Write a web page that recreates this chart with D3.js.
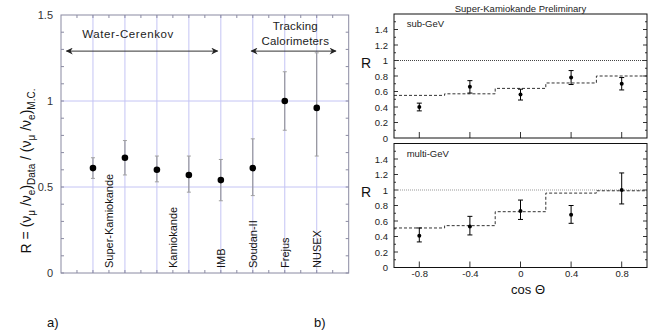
<!DOCTYPE html>
<html>
<head>
<meta charset="utf-8">
<script src="https://cdn.jsdelivr.net/npm/d3@7"></script>
<style>
body { margin: 0; background: #fff; }
text { font-family: "Liberation Sans", Arial, Helvetica, sans-serif; }
</style>
</head>
<body>
<script>
// panel a) : R for each experiment
var expPos = [1, 2, 3, 4, 5, 6, 7, 8]
var expR = [0.61, 0.67, 0.60, 0.57, 0.54, 0.61, 1.00, 0.96]
var expErrUp = [0.06, 0.10, 0.08, 0.11, 0.12, 0.17, 0.17, 0.32]
var expErrDn = [0.06, 0.10, 0.07, 0.10, 0.12, 0.16, 0.17, 0.28]
var expLabels = ["Super-Kamiokande", "Kamiokande", "IMB", "Soudan-II", "Frejus", "NUSEX"]
var expLabelPos = [1.5, 3.5, 5, 6, 7, 8]
var leftTicks = [0, 0.5, 1, 1.5]
var groups = [
    {name: ["Water-Cerenkov"], from: 0.17, to: 4.9},
    {name: ["Tracking", "Calorimeters"], from: 5.95, to: 8.6}
]

// panel b) : Super-Kamiokande zenith angle
var cosBins = [-0.8, -0.4, 0, 0.4, 0.8]
var binEdges = [-1, -0.6, -0.2, 0.2, 0.6, 1]
var subR = [0.40, 0.66, 0.56, 0.78, 0.70]
var subErr = [0.05, 0.08, 0.07, 0.09, 0.08]
var subMC = [0.55, 0.57, 0.64, 0.71, 0.80]
var multiR = [0.41, 0.53, 0.73, 0.68, 1.00]
var multiErrUp = [0.10, 0.13, 0.14, 0.12, 0.22]
var multiErrDn = [0.08, 0.11, 0.11, 0.11, 0.18]
var multiMC = [0.51, 0.54, 0.72, 0.96, 0.99]
var rightTicks = [0, 0.2, 0.4, 0.6, 0.8, 1, 1.2, 1.4]
var cosTicks = [-0.8, -0.4, 0, 0.4, 0.8]

var svg = d3.select('body').append('svg')
    .attr('width', 654)
    .attr('height', 330)

// ---------- panel a ----------
var frameCol = '#8a8aa2'
var gridCol = '#c4c4f4'
var xA = d3.scaleLinear().domain([0, 9]).range([61, 348.7])
var yA = d3.scaleLinear().domain([0, 1.5]).range([273, 15])

var gA = svg.append('g')

// vertical blue grid
gA.selectAll('.vgrid').data(expPos).enter().append('line')
    .attr('x1', d => xA(d)).attr('x2', d => xA(d))
    .attr('y1', yA(1.5)).attr('y2', yA(0))
    .attr('stroke', gridCol).attr('stroke-width', 1)
gA.selectAll('.hgrid').data([0.5, 1]).enter().append('line')
    .attr('x1', xA(0)).attr('x2', xA(9))
    .attr('y1', d => yA(d)).attr('y2', d => yA(d))
    .attr('stroke', gridCol).attr('stroke-width', 1)

// minor ticks
var minorY = d3.range(0, 15).map(d => d / 10)
gA.selectAll('.myl').data(minorY).enter().append('line')
    .attr('x1', xA(0)).attr('x2', xA(0) + 3)
    .attr('y1', d => yA(d)).attr('y2', d => yA(d))
    .attr('stroke', frameCol)
gA.selectAll('.myr').data(minorY).enter().append('line')
    .attr('x1', xA(9)).attr('x2', xA(9) - 3)
    .attr('y1', d => yA(d)).attr('y2', d => yA(d))
    .attr('stroke', frameCol)
var minorX = d3.range(1, 18).map(d => d / 2)
gA.selectAll('.mxb').data(minorX).enter().append('line')
    .attr('x1', d => xA(d)).attr('x2', d => xA(d))
    .attr('y1', yA(0)).attr('y2', yA(0) - 3)
    .attr('stroke', frameCol)
gA.selectAll('.mxt').data(minorX).enter().append('line')
    .attr('x1', d => xA(d)).attr('x2', d => xA(d))
    .attr('y1', yA(1.5)).attr('y2', yA(1.5) + 3)
    .attr('stroke', frameCol)

gA.append('rect')
    .attr('x', xA(0)).attr('y', yA(1.5))
    .attr('width', xA(9) - xA(0)).attr('height', yA(0) - yA(1.5))
    .attr('fill', 'none').attr('stroke', frameCol)

gA.append('g')
    .attr('transform', 'translate(' + xA(0) + ',0)')
    .call(d3.axisLeft(yA).tickValues(leftTicks).tickSize(0).tickPadding(8)
        .tickFormat(d => String(d)))
    .call(g => g.select('.domain').remove())
    .selectAll('text')
    .attr('font-size', 11).attr('fill', '#333')
    .style('font-family', '"Liberation Sans", Arial, sans-serif')

// error bars
gA.selectAll('.err').data(expPos).enter().append('line')
    .attr('x1', d => xA(d)).attr('x2', d => xA(d))
    .attr('y1', (d, i) => yA(expR[i] + expErrUp[i]))
    .attr('y2', (d, i) => yA(expR[i] - expErrDn[i]))
    .attr('stroke', '#8a8a8a').attr('stroke-width', 1)
gA.selectAll('.capU').data(expPos).enter().append('line')
    .attr('x1', d => xA(d) - 2).attr('x2', d => xA(d) + 2)
    .attr('y1', (d, i) => yA(expR[i] + expErrUp[i]))
    .attr('y2', (d, i) => yA(expR[i] + expErrUp[i]))
    .attr('stroke', '#a0a0a0')
gA.selectAll('.capD').data(expPos).enter().append('line')
    .attr('x1', d => xA(d) - 2).attr('x2', d => xA(d) + 2)
    .attr('y1', (d, i) => yA(expR[i] - expErrDn[i]))
    .attr('y2', (d, i) => yA(expR[i] - expErrDn[i]))
    .attr('stroke', '#a0a0a0')
gA.selectAll('.pt').data(expPos).enter().append('circle')
    .attr('cx', d => xA(d)).attr('cy', (d, i) => yA(expR[i]))
    .attr('r', 3.3).attr('fill', '#000')

// rotated experiment labels
gA.selectAll('.lab').data(expLabels).enter().append('text')
    .attr('transform', (d, i) => 'translate(' + (xA(expLabelPos[i]) + 4) + ',' + (yA(0) - 5) + ') rotate(-90)')
    .attr('font-size', 11).attr('fill', '#111')
    .text(d => d)

// group arrows
var defs = svg.append('defs')
defs.append('marker').attr('id', 'ah')
    .attr('viewBox', '0 0 10 10').attr('refX', 9).attr('refY', 5)
    .attr('markerWidth', 9).attr('markerHeight', 7)
    .attr('markerUnits', 'userSpaceOnUse')
    .attr('orient', 'auto-start-reverse')
    .append('path').attr('d', 'M0,0 L10,5 L0,10 L3,5 Z').attr('fill', '#222')

var arrowY = yA(1.29)
groups.forEach(function (g, k) {
    gA.append('line')
        .attr('x1', xA(g.from)).attr('x2', xA(g.to))
        .attr('y1', arrowY).attr('y2', arrowY)
        .attr('stroke', '#333').attr('stroke-width', 1)
        .attr('marker-start', 'url(#ah)').attr('marker-end', 'url(#ah)')
    var cx = k == 0 ? xA(2.1) : xA(7.33)
    var t = gA.append('text').attr('text-anchor', 'middle')
        .attr('font-size', 11.5).attr('fill', '#222')
        .attr('letter-spacing', k == 0 ? 0.6 : 0.2)
    g.name.forEach(function (s, j) {
        var base = k == 0 ? yA(1.29) - 13 : yA(1.29) - 21 + j * 15
        t.append('tspan').attr('x', cx).attr('y', base).text(s)
    })
})

// y label
var yl = svg.append('text')
    .attr('transform', 'translate(31,171) rotate(-90)')
    .attr('text-anchor', 'middle')
    .attr('font-size', 14).attr('fill', '#111')
yl.append('tspan').text('R = (ν')
yl.append('tspan').attr('dy', 4).attr('font-size', 10).text('μ')
yl.append('tspan').attr('dy', -4).text(' /ν')
yl.append('tspan').attr('dy', 4).attr('font-size', 10).text('e')
yl.append('tspan').attr('dy', -4).text(')')
yl.append('tspan').attr('dy', 4).attr('font-size', 10).text('Data')
yl.append('tspan').attr('dy', -4).text(' / (ν')
yl.append('tspan').attr('dy', 4).attr('font-size', 10).text('μ')
yl.append('tspan').attr('dy', -4).text(' /ν')
yl.append('tspan').attr('dy', 4).attr('font-size', 10).text('e')
yl.append('tspan').attr('dy', -4).text(')')
yl.append('tspan').attr('dy', 4).attr('font-size', 10).text('M.C.')

svg.append('text').attr('x', 47).attr('y', 327)
    .attr('font-size', 13).attr('fill', '#111').text('a)')
svg.append('text').attr('x', 314).attr('y', 327)
    .attr('font-size', 13).attr('fill', '#111').text('b)')

// ---------- panel b ----------
var xB = d3.scaleLinear().domain([-1, 1]).range([394, 647])

function drawPanel(top, bottom, vals, errUp, errDn, mc, name, dotCol, showXLabels) {
    var y = d3.scaleLinear().domain([0, 1.6]).range([bottom, top])
    var g = svg.append('g')

    // y ticks both sides
    var minor = d3.range(1, 16).map(d => d / 10)
    g.selectAll('.tl').data(minor).enter().append('line')
        .attr('x1', xB(-1)).attr('x2', (d, i) => xB(-1) + (i % 2 == 1 ? 4 : 2))
        .attr('y1', d => y(d)).attr('y2', d => y(d))
        .attr('stroke', '#000').attr('stroke-width', 0.8)
    g.selectAll('.tr').data(minor).enter().append('line')
        .attr('x1', xB(1)).attr('x2', (d, i) => xB(1) - (i % 2 == 1 ? 4 : 2))
        .attr('y1', d => y(d)).attr('y2', d => y(d))
        .attr('stroke', '#000').attr('stroke-width', 0.8)
    g.selectAll('.tb').data(cosTicks).enter().append('line')
        .attr('x1', d => xB(d)).attr('x2', d => xB(d))
        .attr('y1', bottom).attr('y2', bottom - 6)
        .attr('stroke', '#000').attr('stroke-width', 0.8)

    g.append('g')
        .attr('transform', 'translate(' + xB(-1) + ',0)')
        .call(d3.axisLeft(y).tickValues(rightTicks).tickSize(0).tickPadding(6)
            .tickFormat(d => String(d)))
        .call(a => a.select('.domain').remove())
        .selectAll('text')
        .attr('font-size', 9.5).attr('fill', '#222')
        .style('font-family', '"Liberation Sans", Arial, sans-serif')

    if (showXLabels) {
        g.append('g')
            .attr('transform', 'translate(0,' + bottom + ')')
            .call(d3.axisBottom(xB).tickValues(cosTicks).tickSize(0).tickPadding(3)
                .tickFormat(d => String(d)))
            .call(a => a.select('.domain').remove())
            .selectAll('text')
            .attr('font-size', 9.5).attr('fill', '#222')
            .style('font-family', '"Liberation Sans", Arial, sans-serif')
    }

    // R = 1 reference
    g.append('line')
        .attr('x1', xB(-1)).attr('x2', xB(1))
        .attr('y1', y(1)).attr('y2', y(1))
        .attr('stroke', dotCol).attr('stroke-width', 1)
        .attr('stroke-dasharray', '1,1')

    // MC expectation steps
    var steps = binEdges.map((e, i) => [e, mc[Math.min(i, mc.length - 1)]])
    g.append('path')
        .attr('d', d3.line().x(d => xB(d[0])).y(d => y(d[1])).curve(d3.curveStepAfter)(steps))
        .attr('fill', 'none').attr('stroke', '#333').attr('stroke-width', 1)
        .attr('stroke-dasharray', '3,2')

    // data
    g.selectAll('.eb').data(cosBins).enter().append('line')
        .attr('x1', d => xB(d)).attr('x2', d => xB(d))
        .attr('y1', (d, i) => y(vals[i] + errUp[i]))
        .attr('y2', (d, i) => y(vals[i] - errDn[i]))
        .attr('stroke', '#000').attr('stroke-width', 1)
    g.selectAll('.ebu').data(cosBins).enter().append('line')
        .attr('x1', d => xB(d) - 2.5).attr('x2', d => xB(d) + 2.5)
        .attr('y1', (d, i) => y(vals[i] + errUp[i]))
        .attr('y2', (d, i) => y(vals[i] + errUp[i]))
        .attr('stroke', '#000').attr('stroke-width', 1)
    g.selectAll('.ebd').data(cosBins).enter().append('line')
        .attr('x1', d => xB(d) - 2.5).attr('x2', d => xB(d) + 2.5)
        .attr('y1', (d, i) => y(vals[i] - errDn[i]))
        .attr('y2', (d, i) => y(vals[i] - errDn[i]))
        .attr('stroke', '#000').attr('stroke-width', 1)
    g.selectAll('.dp').data(cosBins).enter().append('circle')
        .attr('cx', d => xB(d)).attr('cy', (d, i) => y(vals[i]))
        .attr('r', 2).attr('fill', '#000')

    g.append('rect')
        .attr('x', xB(-1)).attr('y', top)
        .attr('width', xB(1) - xB(-1)).attr('height', bottom - top)
        .attr('fill', 'none').attr('stroke', '#111').attr('stroke-width', 1)

    g.append('text').attr('x', xB(-0.9)).attr('y', y(1.43))
        .attr('font-size', 9.5).attr('fill', '#222').text(name)

    svg.append('text').attr('x', 361).attr('y', y(1.0) + 7)
        .attr('font-size', 14).attr('fill', '#111').text('R')
}

drawPanel(14, 138, subR, subErr, subErr, subMC, 'sub-GeV', '#444', false)
drawPanel(143.5, 267.5, multiR, multiErrUp, multiErrDn, multiMC, 'multi-GeV', '#999', true)

svg.append('text').attr('x', xB(0)).attr('y', 12)
    .attr('text-anchor', 'middle').attr('font-size', 9.5).attr('fill', '#222')
    .text('Super-Kamiokande Preliminary')

svg.append('text').attr('x', xB(0.06)).attr('y', 294)
    .attr('text-anchor', 'middle').attr('font-size', 13).attr('fill', '#111')
    .text('cos Θ')
</script>
</body>
</html>
